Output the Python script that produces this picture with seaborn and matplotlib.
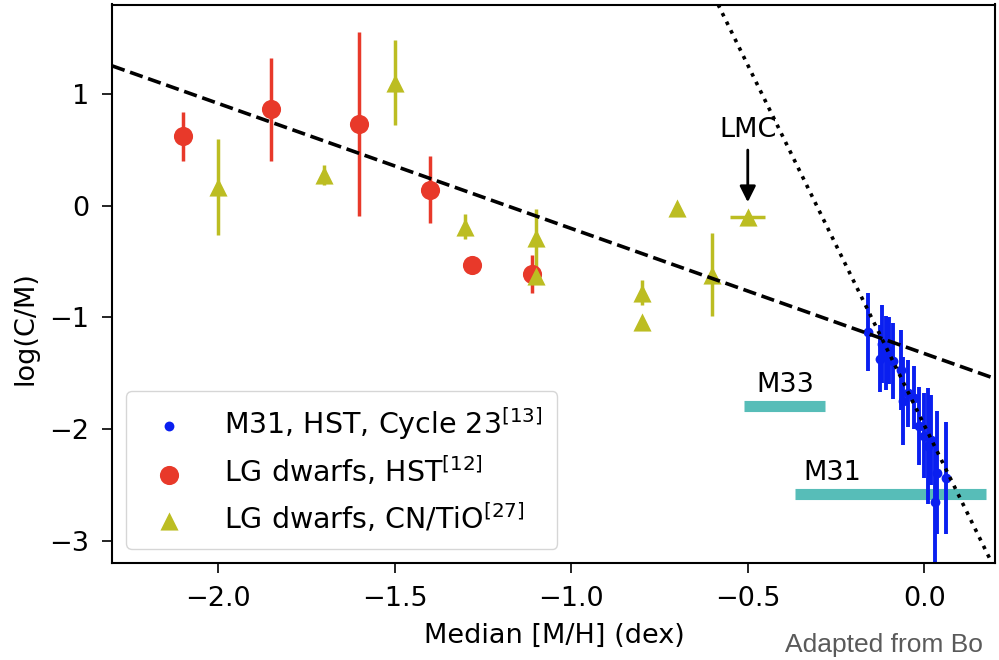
import numpy as np
import pandas as pd
import matplotlib
matplotlib.use("Agg")
import matplotlib.pyplot as plt
import seaborn as sns

# ---------------- data ----------------
# LG dwarfs, HST (red circles)
red_x = [-2.10, -1.85, -1.60, -1.40, -1.28, -1.11]
red_y = [0.62, 0.86, 0.73, 0.14, -0.53, -0.61]
red_err = [0.22, 0.46, 0.82, 0.30, 0.0, 0.17]

# LG dwarfs, CN/TiO (olive triangles)
ol_x = [-2.00, -1.70, -1.50, -1.30, -1.10, -1.10, -0.80, -0.80, -0.70, -0.60, -0.50]
ol_y = [0.17, 0.27, 1.10, -0.19, -0.29, -0.63, -0.78, -1.04, -0.02, -0.62, -0.10]
ol_err = [0.43, 0.09, 0.38, 0.11, 0.26, 0.0, 0.11, 0.0, 0.0, 0.37, 0.0]
ol_xerr = [0, 0, 0, 0, 0, 0, 0, 0, 0, 0, 0.05]

# M31, HST, Cycle 23 (blue dots)
blue_x = [-0.16, -0.125, -0.12, -0.11, -0.10, -0.09, -0.065, -0.06, -0.045,
          -0.03, -0.015, 0.00, 0.01, 0.02, 0.03, 0.035, 0.06]
blue_y = [-1.13, -1.37, -1.24, -1.32, -1.30, -1.39, -1.47, -1.75, -1.68,
          -1.72, -1.97, -2.06, -2.15, -2.10, -2.65, -2.39, -2.44]
blue_err = [0.35, 0.30, 0.35, 0.33, 0.30, 0.34, 0.36, 0.39, 0.30,
            0.28, 0.35, 0.38, 0.52, 0.40, 0.55, 0.55, 0.50]

# relations (slope, intercept)
dashed_fit = [-1.12, -1.325]
dotted_fit = [-6.45, -1.967]

# galaxy ranges: name, x start, x end, y
gal_names = ["M33", "M31"]
gal_x0 = [-0.51, -0.365]
gal_x1 = [-0.28, 0.175]
gal_y = [-1.79, -2.585]

lmc_x, lmc_y = -0.50, -0.10

x_ticks = [-2.0, -1.5, -1.0, -0.5, 0.0]
y_ticks = [-3, -2, -1, 0, 1]

# ---------------- style ----------------
sns.set_theme(style="ticks")
plt.rcParams["font.family"] = ["DejaVu Sans"]
for k in ["text.color", "axes.labelcolor", "xtick.color", "ytick.color", "axes.edgecolor"]:
    plt.rcParams[k] = "black"

FS = 19.5
RED = "#e8392a"
OLIVE = "#bcbd22"
BLUE = "#0a1ff0"
CYAN = "#57bdb8"

fig = plt.figure(figsize=(9.99, 6.60), dpi=100)
ax = fig.add_axes([112 / 999, 1 - 563 / 660, (995 - 112) / 999, (563 - 4.5) / 660])

ax.set_xlim(-2.3, 0.2)
ax.set_ylim(-3.2, 1.8)

# galaxy bars
for name, x0, x1, y in zip(gal_names, gal_x0, gal_x1, gal_y):
    ax.plot([x0, x1], [y, y], color=CYAN, lw=8, solid_capstyle="butt", zorder=1)
    ax.text((x0 + x1) / 2 if name == "M33" else x0 + 0.105, y + 0.07, name,
            ha="center", va="bottom", fontsize=FS, zorder=5)

# error bars
ax.errorbar(red_x, red_y, yerr=red_err, fmt="none", ecolor=RED, elinewidth=2.5, zorder=2)
ax.errorbar(ol_x, ol_y, yerr=ol_err, xerr=ol_xerr, fmt="none", ecolor=OLIVE,
            elinewidth=2.5, zorder=2)
ax.errorbar(blue_x, blue_y, yerr=blue_err, fmt="none", ecolor=BLUE, elinewidth=2.8, zorder=2)

# points
df_blue = pd.DataFrame({"x": blue_x, "y": blue_y})
df_red = pd.DataFrame({"x": red_x, "y": red_y})
df_ol = pd.DataFrame({"x": ol_x, "y": ol_y})
sns.scatterplot(data=df_blue, x="x", y="y", ax=ax, color=BLUE, s=50, linewidth=0,
                marker="o", label=r"M31, HST, Cycle 23$^{[13]}$", zorder=3)
sns.scatterplot(data=df_red, x="x", y="y", ax=ax, color=RED, s=190, linewidth=0,
                marker="o", label=r"LG dwarfs, HST$^{[12]}$", zorder=3)
sns.scatterplot(data=df_ol, x="x", y="y", ax=ax, color=OLIVE, s=170, linewidth=0,
                marker="^", label=r"LG dwarfs, CN/TiO$^{[27]}$", zorder=3)

# relations
ax.axline((0, dashed_fit[1]), slope=dashed_fit[0], color="black", ls="--", lw=2.6, zorder=4)
ax.axline((0, dotted_fit[1]), slope=dotted_fit[0], color="black", ls=":", lw=2.6, zorder=4)

# LMC annotation
ax.annotate("LMC", xy=(lmc_x, lmc_y + 0.13), xytext=(lmc_x, lmc_y + 0.78),
            ha="center", va="center", fontsize=FS, zorder=6,
            arrowprops=dict(arrowstyle="-|>", color="black", lw=2,
                            mutation_scale=24, shrinkA=3, shrinkB=0))

ax.set_xticks(x_ticks)
ax.set_yticks(y_ticks)
ax.tick_params(labelsize=FS, length=7.2, width=1.2, pad=9)
for sp in ax.spines.values():
    sp.set_linewidth(1.5)
ax.set_xlabel("Median [M/H] (dex)", fontsize=FS)
ax.set_ylabel("log(C/M)", fontsize=FS)
ax.xaxis.set_label_coords(0.5015, -0.108)
ax.yaxis.set_label_coords(-0.083, 0.42)

leg = ax.legend(loc="lower left", fontsize=20.5, labelspacing=0.45, handletextpad=0.95,
                borderpad=0.5, frameon=True, fancybox=True, framealpha=0.8,
                borderaxespad=0.5)

fig.text(785 / 999, 1 - 652 / 660, "Adapted from Bo", fontsize=19, color="#5a5a5a",
         family=["Liberation Sans", "DejaVu Sans"], ha="left", va="baseline")

fig.savefig("out.png", dpi=100)
